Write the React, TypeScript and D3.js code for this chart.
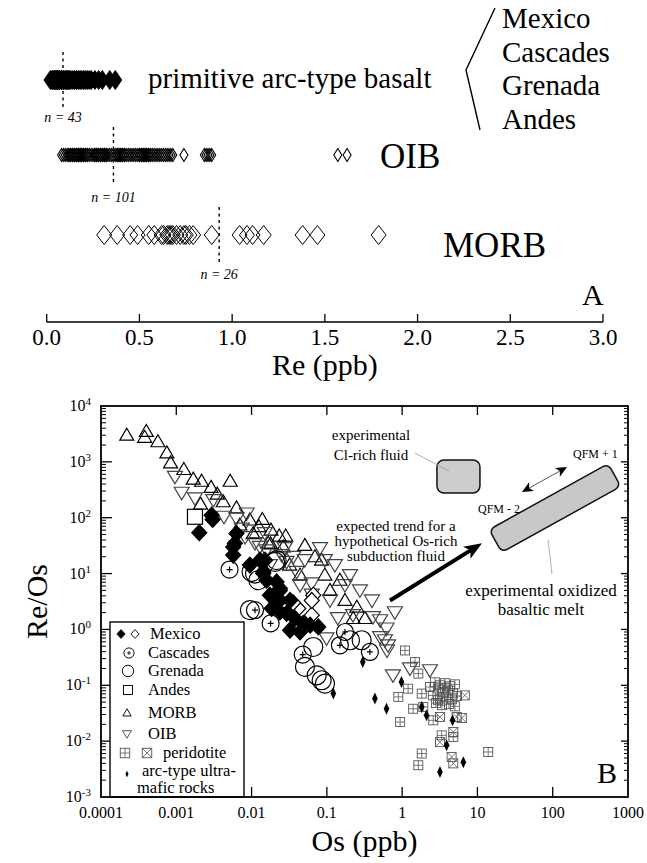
import React, { useRef, useEffect } from 'react';
import * as d3 from 'd3';

const W = 647;
const H = 863;
const SERIF = '"Liberation Serif", "Times New Roman", serif';

// ---------- Panel A: Re (ppb) in primitive arc basalts, OIB, MORB
const primitiveRe = [
  0.02, 0.03, 0.03, 0.04, 0.04, 0.05, 0.05, 0.05, 0.06, 0.06, 0.06, 0.07, 0.07, 0.07, 0.08,
  0.08, 0.08, 0.09, 0.09, 0.09, 0.1, 0.1, 0.11, 0.11, 0.12, 0.12, 0.13, 0.14, 0.15, 0.16,
  0.17, 0.18, 0.19, 0.2, 0.21, 0.22, 0.23, 0.24, 0.26, 0.28, 0.3, 0.34, 0.37,
];
const oibRe = [
  0.08, 0.09, 0.1, 0.11, 0.12, 0.12, 0.13, 0.13, 0.14, 0.14, 0.15, 0.15, 0.15, 0.16, 0.16,
  0.17, 0.17, 0.17, 0.18, 0.18, 0.19, 0.19, 0.2, 0.2, 0.21, 0.21, 0.22, 0.22, 0.23, 0.24,
  0.25, 0.26, 0.26, 0.27, 0.27, 0.28, 0.28, 0.29, 0.29, 0.3, 0.3, 0.31, 0.31, 0.32, 0.32,
  0.33, 0.34, 0.35, 0.36, 0.37, 0.38, 0.38, 0.39, 0.39, 0.4, 0.4, 0.41, 0.41, 0.42, 0.42,
  0.43, 0.44, 0.45, 0.46, 0.47, 0.48, 0.49, 0.5, 0.5, 0.51, 0.51, 0.52, 0.52, 0.53, 0.53,
  0.54, 0.54, 0.55, 0.55, 0.56, 0.56, 0.57, 0.58, 0.59, 0.6, 0.61, 0.62, 0.63, 0.64, 0.65,
  0.66, 0.67, 0.68, 0.74, 0.85, 0.86, 0.87, 0.88, 0.89, 1.57, 1.62,
];
const morbRe = [
  0.31, 0.38, 0.45, 0.49, 0.55, 0.58, 0.62, 0.63, 0.65, 0.66, 0.67, 0.68, 0.7, 0.72, 0.74,
  0.75, 0.77, 0.79, 0.89, 1.04, 1.08, 1.11, 1.17, 1.38, 1.46, 1.79,
];
const rowMeans = [0.088, 0.36, 0.93];
const rowCounts = ['n = 43', 'n = 101', 'n = 26'];
const reTicks = [0, 0.5, 1, 1.5, 2, 2.5, 3];
const arcRegions = ['Mexico', 'Cascades', 'Grenada', 'Andes'];

// ---------- Panel B: [Os (ppb), Re/Os]
type Pt = [number, number];
const mexicoFilled: Pt[] = [
  [0.00295, 111], [0.00304, 93], [0.00202, 54], [0.0063, 52], [0.0057, 30], [0.0057, 21.4],
  [0.0151, 17.4], [0.0143, 10], [0.0215, 7.1], [0.0238, 5.0], [0.006, 35], [0.0129, 17.4],
  [0.0143, 10.7], [0.0158, 7.6], [0.0238, 5.4], [0.0185, 2.37], [0.0238, 3.33], [0.0292, 1.93],
  [0.0377, 1.57], [0.0486, 1.28], [0.0324, 0.97], [0.044, 0.9], [0.077, 1.11], [0.0238, 2.06],
  [0.0095, 14.2], [0.0175, 4.1], [0.0324, 3.3], [0.06, 1.19],
];
const mexicoOpen: Pt[] = [[0.066, 4.1], [0.0417, 2.37], [0.063, 1.8], [0.063, 3.3], [0.0356, 3.0]];
const cascades: Pt[] = [
  [0.0051, 11.8], [0.0111, 2.21], [0.0179, 1.28], [0.0478, 0.355], [0.174, 0.9], [0.149, 0.52],
  [0.373, 0.395],
];
const grenada: Pt[] = [
  [0.0111, 10], [0.0215, 17.4], [0.01, 10.7], [0.0123, 7.6], [0.0095, 2.21], [0.0205, 16.2],
  [0.066, 0.485], [0.0512, 0.213], [0.0733, 0.151], [0.0853, 0.123], [0.0944, 0.107],
  [0.29, 0.64], [0.203, 0.64],
];
const andes: Pt[] = [[0.00177, 104]];
const morb: Pt[] = [
  [0.00022, 3000], [0.0004, 3500], [0.00038, 2750], [0.00057, 2290], [0.00075, 1450],
  [0.00084, 960], [0.00126, 730], [0.00168, 490], [0.00217, 450], [0.0029, 350], [0.0052, 450],
  [0.0021, 175], [0.0035, 265], [0.0042, 193], [0.0063, 150], [0.0139, 93], [0.0125, 69],
  [0.0105, 52], [0.0181, 60], [0.0233, 47], [0.0284, 47], [0.0179, 34], [0.0264, 30],
  [0.0167, 35], [0.0695, 20], [0.085, 17.4], [0.25, 2.5], [0.224, 1.57], [0.32, 1.57],
  [0.044, 9.4], [0.11, 5.0], [0.174, 3.3], [0.007, 74], [0.032, 14.2], [0.149, 7.6],
  [0.094, 9.4], [0.051, 32], [0.0095, 91],
];
const oib: Pt[] = [
  [0.00096, 540], [0.00118, 280], [0.00177, 222], [0.0031, 207], [0.0043, 104], [0.0063, 97],
  [0.0086, 119], [0.0074, 64], [0.0082, 45], [0.0111, 35], [0.0158, 26], [0.0251, 21.4],
  [0.0358, 19.9], [0.0129, 30], [0.0292, 16.2], [0.0397, 10.7], [0.094, 17.4], [0.063, 6.65],
  [0.063, 4.2], [0.11, 3.33], [0.14, 1.59], [0.222, 1.8], [0.41, 1.66], [0.51, 1.46],
  [0.62, 1.04], [0.51, 0.73], [0.099, 0.69], [0.755, 0.151], [1.27, 0.2], [2.34, 0.186],
  [0.59, 0.64], [0.65, 0.52], [0.63, 0.42], [0.015, 53], [0.044, 6.2], [0.0175, 14.2],
  [0.051, 17.4], [0.081, 28.5], [0.128, 14.2], [0.203, 9.4], [0.275, 5.0], [0.397, 3.3],
  [0.8, 2.03], [0.174, 6.2], [0.0276, 28.5],
];
const peridotitePlus: Pt[] = [
  [1.09, 0.42], [1.48, 0.26], [1.64, 0.162], [1.2, 0.087], [0.89, 0.062], [1.82, 0.071],
  [1.91, 0.041], [1.4, 0.038], [0.94, 0.022], [2.34, 0.093], [2.73, 0.113], [3.18, 0.1],
  [3.7, 0.109], [4.32, 0.096], [5.02, 0.104], [2.99, 0.088], [3.48, 0.075], [4.06, 0.081],
  [4.73, 0.072], [2.56, 0.066], [3.18, 0.058], [3.82, 0.061], [4.58, 0.056], [5.35, 0.064],
  [2.81, 0.048], [3.38, 0.044], [4.19, 0.046], [5.02, 0.042], [3.7, 0.088], [2.99, 0.054],
  [2.59, 0.0236], [4.78, 0.0119], [3.35, 0.0127], [1.82, 0.006], [1.64, 0.0037], [13.9, 0.0064],
];
const peridotiteCross: Pt[] = [
  [6.8, 0.066], [5.3, 0.027], [6.2, 0.026], [3.18, 0.027], [4.78, 0.0146], [3.18, 0.0096],
  [4.54, 0.0052], [4.78, 0.004],
];
const ultramafic: Pt[] = [
  [0.3, 0.26], [0.122, 0.071], [0.98, 0.115], [0.435, 0.058], [0.62, 0.038], [1.82, 0.041],
  [2.11, 0.029], [4.67, 0.0236], [3.9, 0.0084], [6.5, 0.0042], [3.18, 0.0028],
];
const osTicks = [0.0001, 0.001, 0.01, 0.1, 1, 10, 100, 1000];
const osTickLabels = ['0.0001', '0.001', '0.01', '0.1', '1', '10', '100', '1000'];
const ratioExponents = [4, 3, 2, 1, 0, -1, -2, -3];

// annotation anchors in data space [Os, Re/Os]
const trendArrow: Pt[] = [[0.69, 3.3], [11.5, 35]];
const clFluidBox: Pt[] = [[2.9, 1080], [10.8, 276]];
const meltBoxCenter: Pt = [107, 149];
const qfmArrow: Pt[] = [[39, 288], [155, 807]];

function drawMark(g: any, kind: string, x: number, y: number, k = 1) {
  const s = (v: number) => v * k;
  const sw = Math.max(0.9, 1.2 * Math.sqrt(k));
  if (kind === 'mexico' || kind === 'mexicoOpen') {
    g.append('path')
      .attr('d', `M${x},${y - s(8)}L${x + s(7.5)},${y}L${x},${y + s(8)}L${x - s(7.5)},${y}Z`)
      .attr('fill', kind === 'mexico' ? '#000' : '#fff')
      .attr('stroke', '#000')
      .attr('stroke-width', sw);
  } else if (kind === 'cascades' || kind === 'grenada') {
    g.append('circle')
      .attr('cx', x).attr('cy', y)
      .attr('r', kind === 'cascades' ? s(8.5) : s(9.5))
      .attr('fill', 'none')
      .attr('stroke', '#000')
      .attr('stroke-width', sw);
    if (kind === 'cascades') {
      g.append('path')
        .attr('d', `M${x - s(3)},${y}H${x + s(3)}M${x},${y - s(3)}V${y + s(3)}`)
        .attr('stroke', '#000')
        .attr('stroke-width', sw);
    }
  } else if (kind === 'andes') {
    g.append('rect')
      .attr('x', x - s(7.5)).attr('y', y - s(7.5))
      .attr('width', s(15)).attr('height', s(15))
      .attr('fill', 'none').attr('stroke', '#000').attr('stroke-width', sw);
  } else if (kind === 'morb') {
    g.append('path')
      .attr('d', `M${x},${y - s(7)}L${x + s(7)},${y + s(5)}L${x - s(7)},${y + s(5)}Z`)
      .attr('fill', 'none').attr('stroke', '#000').attr('stroke-width', sw);
  } else if (kind === 'oib') {
    g.append('path')
      .attr('d', `M${x - s(7.5)},${y - s(5.5)}L${x + s(7.5)},${y - s(5.5)}L${x},${y + s(7)}Z`)
      .attr('fill', 'none').attr('stroke', '#444').attr('stroke-width', sw);
  } else if (kind === 'perPlus' || kind === 'perCross') {
    const h = s(4.5);
    g.append('rect')
      .attr('x', x - h).attr('y', y - h)
      .attr('width', 2 * h).attr('height', 2 * h)
      .attr('fill', 'none').attr('stroke', '#555').attr('stroke-width', 0.9);
    g.append('path')
      .attr('d', kind === 'perPlus'
        ? `M${x - h},${y}H${x + h}M${x},${y - h}V${y + h}`
        : `M${x - h},${y - h}L${x + h},${y + h}M${x + h},${y - h}L${x - h},${y + h}`)
      .attr('stroke', '#555').attr('stroke-width', 0.8);
  } else if (kind === 'ultra') {
    g.append('path')
      .attr('d', `M${x},${y - s(6)}L${x + s(2.8)},${y}L${x},${y + s(6)}L${x - s(2.8)},${y}Z`)
      .attr('fill', '#000');
  }
}

function arrowHead(g: any, x0: number, y0: number, x1: number, y1: number, len: number, half: number) {
  const a = Math.atan2(y1 - y0, x1 - x0);
  const bx = x1 - len * Math.cos(a);
  const by = y1 - len * Math.sin(a);
  const px = -Math.sin(a) * half;
  const py = Math.cos(a) * half;
  g.append('path')
    .attr('d', `M${x1},${y1}L${bx + px},${by + py}L${bx + len * 0.25 * Math.cos(a)},${by + len * 0.25 * Math.sin(a)}L${bx - px},${by - py}Z`)
    .attr('fill', '#000');
  return [bx + len * 0.3 * Math.cos(a), by + len * 0.3 * Math.sin(a)];
}

function App() {
  const svgRef = useRef<SVGSVGElement>(null);

  useEffect(() => {
    const svg = d3.select(svgRef.current);
    svg.selectAll('*').remove();
    svg.attr('font-family', SERIF);

    // ================= Panel A =================
    const xA = d3.scaleLinear().domain([0, 3]).range([46.7, 603]);
    const axisYA = 322;
    const rowY = [80, 155, 235];
    const a = svg.append('g');

    const rows = [
      { vals: primitiveRe, w: 13, h: 19, fill: '#000', stroke: '#000', sw: 0.9 },
      { vals: oibRe, w: 8, h: 13, fill: 'none', stroke: '#000', sw: 1.1 },
      { vals: morbRe, w: 15, h: 19, fill: 'none', stroke: '#000', sw: 1 },
    ];
    rows.forEach((r, i) => {
      a.append('g')
        .selectAll('path')
        .data(r.vals)
        .enter()
        .append('path')
        .attr('d', (d) => {
          const x = xA(d);
          const y = rowY[i];
          return `M${x},${y - r.h / 2}L${x + r.w / 2},${y}L${x},${y + r.h / 2}L${x - r.w / 2},${y}Z`;
        })
        .attr('fill', r.fill)
        .attr('stroke', r.stroke)
        .attr('stroke-width', r.sw);

      // mean line
      a.append('line')
        .attr('x1', xA(rowMeans[i])).attr('x2', xA(rowMeans[i]))
        .attr('y1', rowY[i] - 28).attr('y2', rowY[i] + 27)
        .attr('stroke', '#000')
        .attr('stroke-width', 1.4)
        .attr('stroke-dasharray', '3,3.5');

      a.append('text')
        .attr('x', xA(rowMeans[i]))
        .attr('y', rowY[i] + [42, 47, 44][i])
        .attr('text-anchor', 'middle')
        .attr('font-size', 14)
        .attr('font-style', 'italic')
        .text(rowCounts[i]);
    });

    a.append('text').attr('x', 148).attr('y', 88).attr('font-size', 29).text('primitive arc-type basalt');
    a.append('path')
      .attr('d', 'M495,8L466,70L480,130')
      .attr('fill', 'none').attr('stroke', '#000').attr('stroke-width', 1.4);
    arcRegions.forEach((name, i) => {
      a.append('text')
        .attr('x', 502)
        .attr('y', 28 + i * 33.7)
        .attr('font-size', 29)
        .text(name);
    });
    a.append('text').attr('x', 380).attr('y', 168).attr('font-size', 35).text('OIB');
    a.append('text').attr('x', 443).attr('y', 257).attr('font-size', 35).text('MORB');

    // axis A
    a.append('line')
      .attr('x1', xA(0)).attr('x2', xA(3))
      .attr('y1', axisYA).attr('y2', axisYA)
      .attr('stroke', '#000').attr('stroke-width', 1.5);
    reTicks.forEach((t) => {
      a.append('line')
        .attr('x1', xA(t)).attr('x2', xA(t))
        .attr('y1', axisYA).attr('y2', axisYA - 8)
        .attr('stroke', '#000').attr('stroke-width', 1.3);
      a.append('text')
        .attr('x', xA(t)).attr('y', axisYA + 23)
        .attr('text-anchor', 'middle')
        .attr('font-size', 23)
        .text(t.toFixed(1));
    });
    a.append('text')
      .attr('x', (xA(0) + xA(3)) / 2).attr('y', 375)
      .attr('text-anchor', 'middle').attr('font-size', 30)
      .text('Re (ppb)');
    a.append('text').attr('x', 582).attr('y', 305).attr('font-size', 30).text('A');

    // ================= Panel B =================
    const x = d3.scaleLog().domain([1e-4, 1e3]).range([101, 628]);
    const y = d3.scaleLog().domain([1e-3, 1e4]).range([797, 406]);
    const b = svg.append('g');
    const [x0, x1] = x.range();
    const [y0, y1] = y.range();

    // minor & major ticks on y (left + right)
    for (let e = -3; e < 4; e++) {
      for (let k = 1; k < 10; k++) {
        const v = k * Math.pow(10, e);
        const py = y(v);
        const major = k === 1;
        if (major && e === -3) continue;
        b.append('line')
          .attr('x1', x0).attr('x2', x0 + (major ? 11 : 5))
          .attr('y1', py).attr('y2', py)
          .attr('stroke', '#000').attr('stroke-width', major ? 1.3 : 1);
        b.append('line')
          .attr('x1', x1).attr('x2', x1 - (major ? 7 : 4))
          .attr('y1', py).attr('y2', py)
          .attr('stroke', '#000').attr('stroke-width', major ? 1.3 : 1);
      }
    }
    // x ticks top + bottom
    osTicks.slice(1, -1).forEach((t) => {
      b.append('line')
        .attr('x1', x(t)).attr('x2', x(t))
        .attr('y1', y0).attr('y2', y0 - 10)
        .attr('stroke', '#000').attr('stroke-width', 1.3);
      b.append('line')
        .attr('x1', x(t)).attr('x2', x(t))
        .attr('y1', y1).attr('y2', y1 + 9)
        .attr('stroke', '#000').attr('stroke-width', 1.3);
    });
    osTicks.forEach((t, i) => {
      b.append('text')
        .attr('x', x(t)).attr('y', 818)
        .attr('text-anchor', 'middle').attr('font-size', 16)
        .text(osTickLabels[i]);
    });
    ratioExponents.forEach((e) => {
      const t = b.append('text')
        .attr('x', 91).attr('y', y(Math.pow(10, e)) + 5)
        .attr('text-anchor', 'end').attr('font-size', 16);
      t.append('tspan').text('10');
      t.append('tspan').attr('font-size', 11).attr('dy', -6).text(String(e));
    });
    b.append('text')
      .attr('x', (x0 + x1) / 2).attr('y', 851)
      .attr('text-anchor', 'middle').attr('font-size', 30)
      .text('Os (ppb)');
    b.append('text')
      .attr('transform', `translate(47,${(y0 + y1) / 2}) rotate(-90)`)
      .attr('text-anchor', 'middle').attr('font-size', 30)
      .text('Re/Os');
    b.append('text').attr('x', 597).attr('y', 783).attr('font-size', 30).text('B');

    // data
    const marks = b.append('g');
    const plot = (pts: Pt[], kind: string) =>
      pts.forEach(([os, r]) => drawMark(marks, kind, x(os), y(r)));
    plot(peridotitePlus, 'perPlus');
    plot(peridotiteCross, 'perCross');
    plot(morb, 'morb');
    plot(oib, 'oib');
    plot(grenada, 'grenada');
    plot(cascades, 'cascades');
    plot(andes, 'andes');
    plot(mexicoOpen, 'mexicoOpen');
    plot(mexicoFilled, 'mexico');
    plot(ultramafic, 'ultra');

    // annotations
    const ann = b.append('g');
    ann.append('rect')
      .attr('x', x(clFluidBox[0][0])).attr('y', y(clFluidBox[0][1]))
      .attr('width', x(clFluidBox[1][0]) - x(clFluidBox[0][0]))
      .attr('height', y(clFluidBox[1][1]) - y(clFluidBox[0][1]))
      .attr('rx', 7)
      .attr('fill', '#cdcdcd').attr('stroke', '#111').attr('stroke-width', 1.5);
    ann.append('rect')
      .attr('x', -68).attr('y', -13).attr('width', 136).attr('height', 26).attr('rx', 6)
      .attr('transform', `translate(${x(meltBoxCenter[0])},${y(meltBoxCenter[1])}) rotate(-29)`)
      .attr('fill', '#c8c8c8').attr('stroke', '#111').attr('stroke-width', 1.5);

    // thick trend arrow
    {
      const ax0 = x(trendArrow[0][0]);
      const ay0 = y(trendArrow[0][1]);
      const ax1 = x(trendArrow[1][0]);
      const ay1 = y(trendArrow[1][1]);
      const [ex, ey] = arrowHead(ann, ax0, ay0, ax1, ay1, 18, 7);
      ann.append('line')
        .attr('x1', ax0).attr('y1', ay0).attr('x2', ex).attr('y2', ey)
        .attr('stroke', '#000').attr('stroke-width', 4);
    }
    // QFM double arrow
    {
      const ax0 = x(qfmArrow[0][0]);
      const ay0 = y(qfmArrow[0][1]);
      const ax1 = x(qfmArrow[1][0]);
      const ay1 = y(qfmArrow[1][1]);
      const [ex, ey] = arrowHead(ann, ax0, ay0, ax1, ay1, 11, 5);
      const [sx, sy] = arrowHead(ann, ax1, ay1, ax0, ay0, 11, 5);
      ann.append('line')
        .attr('x1', sx).attr('y1', sy).attr('x2', ex).attr('y2', ey)
        .attr('stroke', '#444').attr('stroke-width', 0.9);
    }
    // leader lines
    ann.append('line').attr('x1', 415).attr('y1', 453).attr('x2', 449).attr('y2', 471)
      .attr('stroke', '#999').attr('stroke-width', 0.8);
    ann.append('line').attr('x1', 552).attr('y1', 574).attr('x2', 548).attr('y2', 540)
      .attr('stroke', '#999').attr('stroke-width', 0.8);

    const label = (lines: string[], cx: number, by: number, lh: number, fs: number, anchor = 'middle') => {
      lines.forEach((l, i) => {
        ann.append('text')
          .attr('x', cx).attr('y', by + i * lh)
          .attr('text-anchor', anchor).attr('font-size', fs)
          .text(l);
      });
    };
    label(['experimental', 'Cl-rich fluid'], 371, 440, 19.5, 15);
    label(['expected trend for a', 'hypothetical Os-rich', 'subduction fluid'], 396, 531, 14.8, 15);
    label(['experimental oxidized', 'basaltic melt'], 541, 596, 18.5, 17);
    label(['QFM + 1'], 573, 458, 0, 12, 'start');
    label(['QFM - 2'], 478, 513, 0, 12, 'start');

    // legend
    const lg = b.append('g');
    lg.append('rect')
      .attr('x', 110).attr('y', 622).attr('width', 134).attr('height', y0 - 622)
      .attr('fill', '#fff').attr('stroke', '#000').attr('stroke-width', 1.4);
    const legendRows = [
      { marks: [['mexico', 121], ['mexicoOpen', 135]], text: 'Mexico', tx: 150, cy: 633 },
      { marks: [['cascades', 129]], text: 'Cascades', tx: 148, cy: 652 },
      { marks: [['grenada', 128]], text: 'Grenada', tx: 148, cy: 670 },
      { marks: [['andes', 128]], text: 'Andes', tx: 148, cy: 689 },
      { marks: [['morb', 127]], text: 'MORB', tx: 148, cy: 712 },
      { marks: [['oib', 127]], text: 'OIB', tx: 148, cy: 733 },
      { marks: [['perPlus', 125], ['perCross', 147]], text: 'peridotite', tx: 163, cy: 752 },
      { marks: [['ultra', 127]], text: 'arc-type ultra-', tx: 142, cy: 770 },
    ];
    legendRows.forEach((r) => {
      r.marks.forEach(([kind, mx]) => {
        const kd = kind as string;
        const k = kd === 'perPlus' || kd === 'perCross' ? 1.05
          : kd === 'ultra' ? 0.55
          : kd === 'mexico' || kd === 'mexicoOpen' ? 0.55
          : 0.6;
        drawMark(lg, kd, mx as number, r.cy + (kd === 'ultra' ? 4 : 1), k);
      });
      lg.append('text').attr('x', r.tx).attr('y', r.cy + 6).attr('font-size', 16.5).text(r.text);
    });
    lg.append('text').attr('x', 137).attr('y', 793).attr('font-size', 16.5).text('mafic rocks');

    // frame last
    b.append('rect')
      .attr('x', x0).attr('y', y1).attr('width', x1 - x0).attr('height', y0 - y1)
      .attr('fill', 'none').attr('stroke', '#000').attr('stroke-width', 1.8);
  }, []);

  return (
    <svg
      ref={svgRef}
      width={W}
      height={H}
      style={{ position: 'absolute', left: 0, top: 0, background: '#fff' }}
    />
  );
}

export default App;
